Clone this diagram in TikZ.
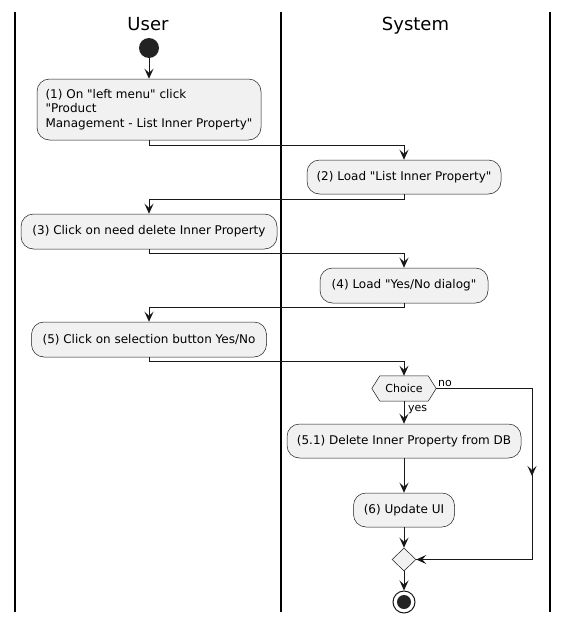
\documentclass[tikz,border=0pt]{standalone}
\usepackage{fontspec}
\setmainfont{DejaVu Sans}[Ligatures=TeXOff]
\usetikzlibrary{arrows.meta,shapes.geometric}
\definecolor{ln}{HTML}{181818}
\definecolor{bx}{HTML}{F1F1F1}
\begin{document}
\begin{tikzpicture}[x=1pt,y=-1pt,
  act/.style={draw=ln,line width=0.5pt,fill=bx,rounded corners=12.5pt,inner sep=0pt,
    font=\fontsize{12}{14.2}\selectfont,text=black},
  arr/.style={draw=ln,line width=1pt,-{Stealth[length=10pt,width=9pt,inset=4pt]}},
  lane/.style={draw=black,line width=1.5pt},
  lbl/.style={font=\fontsize{11}{13}\selectfont,inner sep=0pt},
  head/.style={font=\fontsize{18}{20}\selectfont,inner sep=0pt,anchor=base}]
\useasboundingbox (0,0) rectangle (569,624);
\draw[lane] (15,12) -- (15,612);
\draw[lane] (281,12) -- (281,612);
\draw[lane] (550,12) -- (550,612);
\node[head] (huser) at (148,30) {User};
\node[head] (hsys) at (415.5,30) {System};

\fill[ln!95!white] (149,48) circle (10);
\node[circle,minimum size=20pt,inner sep=0pt] (start) at (149,48) {};

\node[act,align=left,minimum width=224pt,minimum height=61pt] (b1) at (149,109.5)
  {(1) On "left menu" click\\"Product\\Management - List Inner Property"};
\node[act,minimum width=194pt,minimum height=34pt] (b2) at (404,177) {(2) Load "List Inner Property"};
\node[act,minimum width=256pt,minimum height=35pt] (b3) at (149,231.5) {(3) Click on need delete Inner Property};
\node[act,minimum width=168pt,minimum height=35pt] (b4) at (404,285.5) {(4) Load "Yes/No dialog"};
\node[act,minimum width=235pt,minimum height=35pt] (b5) at (149,339.5) {(5) Click on selection button Yes/No};

\node[minimum width=64pt,minimum height=25pt,inner sep=0pt,font=\fontsize{11}{13}\selectfont] (ch) at (404,388.5) {Choice};
\draw[ln,line width=0.5pt,fill=bx] (ch.west) -- ([xshift=8pt]ch.north west) -- ([xshift=-8pt]ch.north east)
  -- (ch.east) -- ([xshift=-8pt]ch.south east) -- ([xshift=8pt]ch.south west) -- cycle;
\node[inner sep=0pt,font=\fontsize{11}{13}\selectfont] at (ch) {Choice};

\node[act,minimum width=234pt,minimum height=34pt] (b51) at (404,441) {(5.1) Delete Inner Property from DB};
\node[act,minimum width=101pt,minimum height=34pt] (b6) at (404,510) {(6) Update UI};
\node[diamond,draw=ln,line width=0.5pt,fill=bx,minimum width=24pt,minimum height=23pt,inner sep=0pt] (mg) at (404,559.5) {};

\node[circle,draw=ln,line width=1pt,fill=white,minimum size=22pt,inner sep=0pt] (end) at (404,602) {};
\fill[ln!95!white] (end) circle (7);

\coordinate (nocorner) at (532,388.5);
\draw[arr] (start) -- (b1.north);
\draw[arr] (b1.south) -- ++(0,5) -| (b2.north);
\draw[arr] (b2.south) -- ++(0,5) -| (b3.north);
\draw[arr] (b3.south) -- ++(0,4) -| (b4.north);
\draw[arr] (b4.south) -- ++(0,4) -| (b5.north);
\draw[arr] (b5.south) -- ++(0,4) -| (ch.north);
\draw[arr] (ch.south) -- (b51.north);
\draw[arr] (b51.south) -- (b6.north);
\draw[arr] (b6.south) -- (mg.north);
\draw[arr] (mg.south) -- (end.north);
\draw[ln,line width=1pt] (ch.east) -- (nocorner) -- (nocorner |- mg) -- (mg.east);
\draw[arr] (nocorner) -- (532,476);
\draw[arr] (nocorner |- mg) -- (mg.east);
\node[lbl,anchor=base west] (lno) at (438,386) {no};
\node[lbl,anchor=base west] (lyes) at (408,411) {yes};
\end{tikzpicture}
\end{document}
